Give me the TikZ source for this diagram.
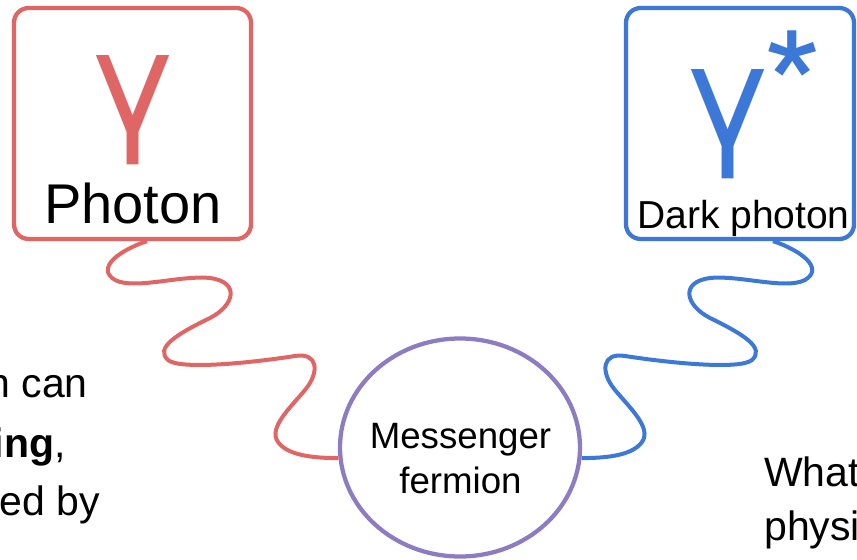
\documentclass[tikz,border=0pt]{standalone}
\usepackage{fontspec}
\setmainfont{Liberation Sans}
\newfontfamily\gammafont{TeX Gyre Heros}
\usetikzlibrary{shapes.geometric}
\definecolor{cred}{HTML}{E06666}
\definecolor{cblue}{HTML}{3C78D8}
\definecolor{cpurp}{HTML}{8E7CC3}
\begin{document}
\begin{tikzpicture}[x=0.75pt,y=-0.75pt,
  box/.style={draw, rounded corners=11pt, line width=3.2pt, minimum height=173.25pt, inner sep=0pt},
  wave/.style={line width=3pt},
  lbl/.style={inner sep=0pt, anchor=base},
  bigfont/.style={font=\gammafont\fontsize{108.75pt}{110pt}\selectfont},
  bodyfont/.style={font=\fontsize{30.75pt}{36pt}\selectfont},
]
\useasboundingbox (0,0) rectangle (857,560);
\clip (0,0) rectangle (857,560);
% boxes and circle
\node[box, draw=cred, minimum width=177.75pt] (lbox) at (132.5,123.5) {};
\node[box, draw=cblue, minimum width=171pt] (rbox) at (740,123.5) {};
\node[draw=cpurp, ellipse, line width=3.2pt, minimum width=180pt, minimum height=163.5pt, inner sep=0pt] (msg) at (460,447.5) {};
% labels
\node[lbl, text=cred, bigfont] (g1) at (133,132) {γ};
\node[lbl, anchor=base west, text=cblue, bigfont] (g2) at (681,146) {γ\kern-9pt{\fontsize{118pt}{120pt}\selectfont*}};
\node[lbl, font=\fontsize{42pt}{50pt}\selectfont] (ph) at (133,223) {Photon};
\node[lbl, font=\fontsize{29.25pt}{35pt}\selectfont] (dph) at (743.5,228) {Dark photon};
\node[lbl, font=\fontsize{27.5pt}{33pt}\selectfont] (m1) at (460.5,448) {Messenger};
\node[lbl, font=\fontsize{27.5pt}{33pt}\selectfont] (m2) at (460.5,493) {fermion};
% side texts (clipped)
\node[lbl, anchor=base east, bodyfont] (t1) at (88,397) {n can};
\node[lbl, anchor=base east, bodyfont] (t2) at (66,457) {\textbf{ing},};
\node[lbl, anchor=base east, bodyfont] (t3) at (100,515) {ed by};
\node[lbl, anchor=base west, bodyfont] (t4) at (764,486) {What};
\node[lbl, anchor=base west, bodyfont] (t5) at (764,540) {physi};
% wave connectors
\coordinate (ls) at ([xshift=10.9pt]lbox.south);
\coordinate (rs) at ([xshift=24.75pt]rbox.south);
\draw[wave, cred] (ls) .. controls (120,250) and (95,268) .. (115,280)
  .. controls (135,290) and (180,275) .. (210,278)
  .. controls (240,282) and (235,305) .. (210,318)
  .. controls (175,335) and (155,348) .. (168,360)
  .. controls (180,370) and (250,363) .. (295,356)
  .. controls (318,352) and (320,372) .. (305,390)
  .. controls (290,408) and (268,428) .. (278,442)
  .. controls (288,456) and (315,458) .. (msg.185);
\draw[wave, cblue] (rs) .. controls (800,250) and (825,268) .. (805,280)
  .. controls (785,290) and (740,275) .. (710,278)
  .. controls (680,282) and (685,305) .. (710,318)
  .. controls (745,335) and (765,348) .. (752,360)
  .. controls (740,370) and (670,363) .. (625,356)
  .. controls (602,352) and (600,372) .. (615,390)
  .. controls (630,408) and (652,428) .. (642,442)
  .. controls (632,456) and (605,458) .. (msg.355);
\end{tikzpicture}
\end{document}
